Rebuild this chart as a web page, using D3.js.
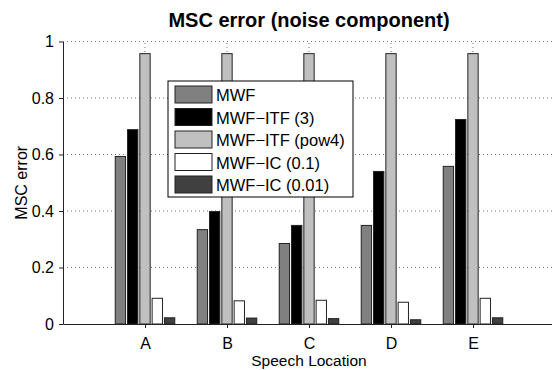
<!DOCTYPE html>
<html>
<head>
<meta charset="utf-8">
<script src="https://cdn.jsdelivr.net/npm/d3@7"></script>
<style>
  body { margin: 0; background: #fff; }
  svg { display: block; font-family: "Liberation Sans", Arial, sans-serif; }
</style>
</head>
<body>
<div id="chart"></div>
<script>
// Data
const categories = ["A", "B", "C", "D", "E"];
const seriesNames = ["MWF", "MWF\u2212ITF (3)", "MWF\u2212ITF (pow4)", "MWF\u2212IC (0.1)", "MWF\u2212IC (0.01)"];
const mwf      = [0.593, 0.334, 0.285, 0.349, 0.558];
const itf3     = [0.688, 0.398, 0.349, 0.540, 0.724];
const itfPow4  = [0.957, 0.957, 0.957, 0.957, 0.957];
const ic01     = [0.091, 0.082, 0.084, 0.077, 0.091];
const ic001    = [0.022, 0.021, 0.019, 0.015, 0.022];
const yTicks = [0, 0.2, 0.4, 0.6, 0.8, 1];

const seriesValues = [mwf, itf3, itfPow4, ic01, ic001];
const seriesColors = ["#808080", "#000000", "#c0c0c0", "#ffffff", "#404040"];

function createChart() {
    let width = 552;
    let height = 370;

    const svg = d3.select("#chart").append("svg")
        .attr("width", width)
        .attr("height", height);

    // x is numeric: categories sit at 1..5, axis spans 0..6
    const x = d3.scaleLinear().domain([0, 6]).range([63, 555]);
    const y = d3.scaleLinear().domain([0, 1]).range([324, 41.5]);

    // sub-band inside each group
    const inner = d3.scaleBand()
        .domain(d3.range(seriesNames.length))
        .range([-0.375, 0.375])
        .paddingInner(0.16)
        .paddingOuter(0.08);

    // grid
    const grid = svg.append("g")
        .attr("stroke", "#555")
        .attr("stroke-width", 0.8)
        .attr("stroke-dasharray", "1,3");

    grid.selectAll("line.h")
        .data(yTicks.filter(d => d > 0))
        .join("line")
        .attr("class", "h")
        .attr("x1", x(0))
        .attr("x2", x(6))
        .attr("y1", d => y(d))
        .attr("y2", d => y(d));

    grid.selectAll("line.v")
        .data(categories)
        .join("line")
        .attr("class", "v")
        .attr("x1", (d, i) => x(i + 1))
        .attr("x2", (d, i) => x(i + 1))
        .attr("y1", y(0))
        .attr("y2", y(1));

    // bars
    const rows = [];
    categories.forEach((c, i) => {
        seriesValues.forEach((vals, s) => {
            rows.push({ cat: i + 1, s: s, v: vals[i] });
        });
    });

    const bw = x(inner.bandwidth()) - x(0);
    svg.append("g")
        .attr("stroke", "#222")
        .attr("stroke-width", 1)
        .selectAll("rect")
        .data(rows)
        .join("rect")
        .attr("x", d => x(d.cat + inner(d.s)))
        .attr("width", bw)
        .attr("y", d => y(d.v))
        .attr("height", d => y(0) - y(d.v))
        .attr("fill", d => seriesColors[d.s]);

    // axes
    const xAxis = d3.axisBottom(x)
        .tickValues(d3.range(1, categories.length + 1))
        .tickFormat(d => categories[d - 1])
        .tickSize(4)
        .tickSizeOuter(0);

    const gx = svg.append("g")
        .attr("transform", `translate(0,${y(0)})`)
        .call(xAxis);
    gx.select(".domain").attr("stroke", "#222");
    gx.selectAll(".tick line").attr("stroke", "#222");
    gx.selectAll(".tick text")
        .attr("font-size", 16)
        .attr("fill", "#000")
        .attr("y", 25)
        .attr("dy", 0);

    const yAxis = d3.axisLeft(y)
        .tickValues(yTicks)
        .tickFormat(d => d === 0 || d === 1 ? d3.format("d")(d) : d3.format(".1f")(d))
        .tickSize(4)
        .tickSizeOuter(0);

    const gy = svg.append("g")
        .attr("transform", `translate(${x(0)},0)`)
        .call(yAxis);
    gy.select(".domain").attr("stroke", "#222");
    gy.selectAll(".tick line").attr("stroke", "#222");
    gy.selectAll(".tick text")
        .attr("font-size", 16)
        .attr("fill", "#000")
        .attr("x", -9);

    // labels
    svg.append("text")
        .attr("x", (x(0) + x(6)) / 2)
        .attr("y", 27)
        .attr("text-anchor", "middle")
        .attr("font-size", 20)
        .attr("font-weight", "bold")
        .text("MSC error (noise component)");

    svg.append("text")
        .attr("x", (x(0) + x(6)) / 2)
        .attr("y", 366)
        .attr("text-anchor", "middle")
        .attr("font-size", 15.5)
        .text("Speech Location");

    svg.append("text")
        .attr("transform", `translate(27,${(y(0) + y(1)) / 2}) rotate(-90)`)
        .attr("text-anchor", "middle")
        .attr("font-size", 16)
        .text("MSC error");

    // legend
    const legend = svg.append("g").attr("transform", "translate(168,81)");
    legend.append("rect")
        .attr("width", 185)
        .attr("height", 116)
        .attr("fill", "#fff")
        .attr("stroke", "#000")
        .attr("stroke-width", 1);

    const item = legend.selectAll("g.item")
        .data(seriesNames)
        .join("g")
        .attr("class", "item")
        .attr("transform", (d, i) => `translate(7,${5 + i * 22.5})`);

    item.append("rect")
        .attr("width", 37)
        .attr("height", 17)
        .attr("fill", (d, i) => seriesColors[i])
        .attr("stroke", "#222");

    item.append("text")
        .attr("x", 41)
        .attr("y", 15)
        .attr("font-size", 16.5)
        .text(d => d);
}

document.addEventListener("DOMContentLoaded", function () {
    createChart();
});
</script>
</body>
</html>
